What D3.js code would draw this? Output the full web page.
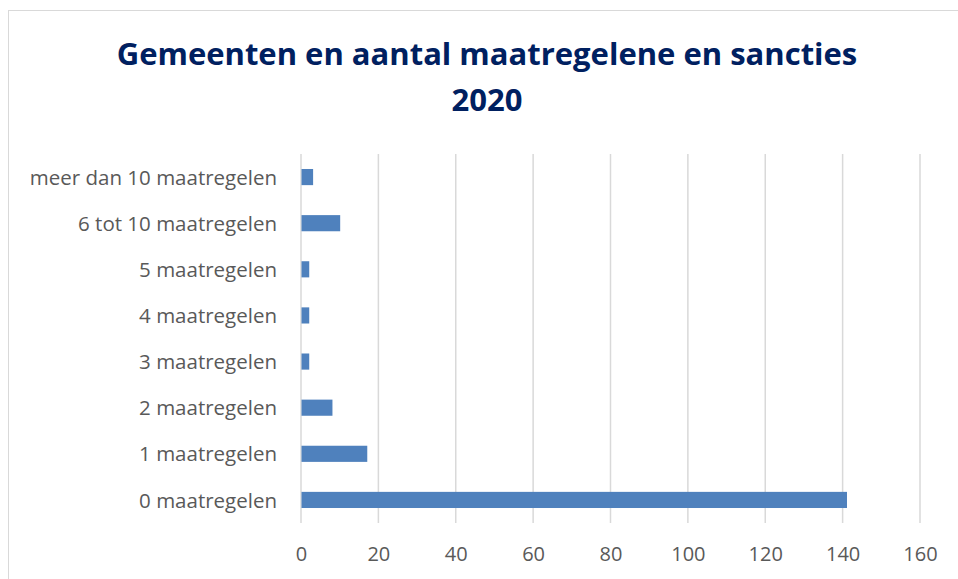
<!DOCTYPE html>
<html>
<head>
<meta charset="utf-8">
<script src="https://cdn.jsdelivr.net/npm/d3@7"></script>
<style>
  html, body { margin: 0; padding: 0; background: #ffffff; }
  svg { display: block; }
</style>
</head>
<body>
<svg id="chart" width="958" height="579"></svg>
<script>
const categories = [
  "meer dan 10 maatregelen",
  "6 tot 10 maatregelen",
  "5 maatregelen",
  "4 maatregelen",
  "3 maatregelen",
  "2 maatregelen",
  "1 maatregelen",
  "0 maatregelen"
];
const values = [3, 10, 2, 2, 2, 8, 17, 141];
const xTicks = [0, 20, 40, 60, 80, 100, 120, 140, 160];
const titleLines = ["Gemeenten en aantal maatregelene en sancties", "2020"];

const FONT = "'Open Sans', 'Liberation Sans', Arial, sans-serif";
const svg = d3.select("#chart");
const W = 958, H = 579;
const margin = { left: 301, right: 38, top: 154, bottom: 56 };

// chart frame
svg.append("rect")
  .attr("x", 8.5).attr("y", 10.5)
  .attr("width", W - 8).attr("height", H)
  .attr("fill", "#ffffff")
  .attr("stroke", "#d9d9d9").attr("stroke-width", 1);

const x = d3.scaleLinear().domain([0, 160]).range([margin.left, W - margin.right]);
const y = d3.scaleBand().domain(categories).range([margin.top, H - margin.bottom]).paddingInner(0.65).paddingOuter(0.325);

// gridlines
svg.append("g").selectAll("line").data(xTicks).join("line")
  .attr("x1", d => x(d)).attr("x2", d => x(d))
  .attr("y1", margin.top).attr("y2", H - margin.bottom)
  .attr("stroke", "#d9d9d9").attr("stroke-width", 1.5);

// bars
svg.append("g").selectAll("rect").data(values).join("rect")
  .attr("x", x(0) + 0.5)
  .attr("y", (d, i) => y(categories[i]))
  .attr("width", d => x(d) - x(0))
  .attr("height", y.bandwidth())
  .attr("fill", "#4f81bd");

// x axis
const xAxis = svg.append("g")
  .attr("transform", `translate(0,${H - margin.bottom})`)
  .call(d3.axisBottom(x).tickValues(xTicks).tickSize(0).tickPadding(24));
xAxis.select(".domain").remove();
xAxis.selectAll("text")
  .attr("fill", "#595959")
  .style("font-family", FONT)
  .style("font-size", "20px");

// y axis
const yAxis = svg.append("g")
  .attr("transform", `translate(${margin.left},0)`)
  .call(d3.axisLeft(y).tickSize(0).tickPadding(24));
yAxis.select(".domain").remove();
yAxis.selectAll("text")
  .attr("fill", "#595959")
  .attr("dy", "0.37em")
  .style("font-family", FONT)
  .style("font-size", "20.5px");

// title
svg.append("g").selectAll("text").data(titleLines).join("text")
  .attr("x", 487)
  .attr("y", (d, i) => 65 + i * 46)
  .attr("text-anchor", "middle")
  .attr("fill", "#002060")
  .style("font-family", FONT)
  .style("font-weight", "bold")
  .style("font-size", "31px")
  .text(d => d);
</script>
</body>
</html>
